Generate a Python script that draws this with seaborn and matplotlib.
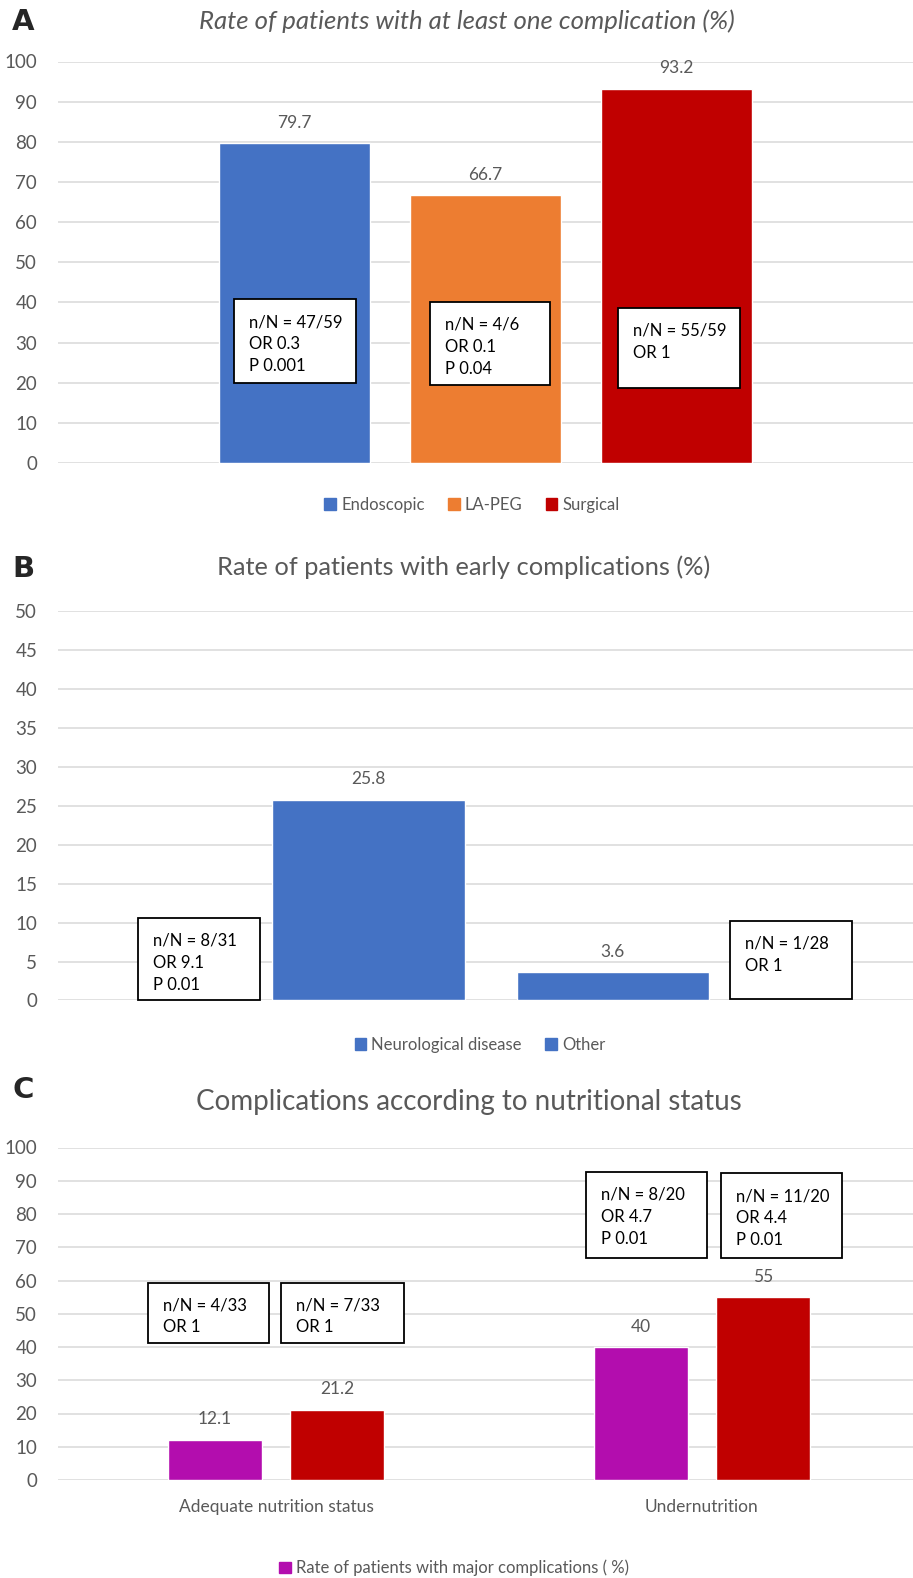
import pandas as pd
import matplotlib.pyplot as plt
from matplotlib.patches import Patch, Rectangle
import seaborn as sns

# ── Data ──────────────────────────────────────────────────────────────────────
A_METHODS = ["Endoscopic", "LA-PEG", "Surgical"]
A_RATES = [79.7, 66.7, 93.2]
A_COLORS = ["#4472C4", "#ED7D31", "#C00000"]
A_N = ["47/59", "4/6", "55/59"]
A_OR = ["0.3", "0.1", "1"]
A_P = ["0.001", "0.04", None]

B_GROUPS = ["Neurological disease", "Other"]
B_RATES = [25.8, 3.6]
B_COLORS = ["#4472C4", "#4472C4"]
B_N = ["8/31", "1/28"]
B_OR = ["9.1", "1"]
B_P = ["0.01", None]

C_STATUS = ["Adequate nutrition status", "Undernutrition"]
C_SERIES = ["Rate of patients with major complications ( %)",
            "Rate of patients with at least one complication (%)"]
C_MAJOR = [12.1, 40]
C_ANY = [21.2, 55]
C_COLORS = ["#B30DAE", "#C00000"]
C_N = ["4/33", "7/33", "8/20", "11/20"]
C_OR = ["1", "1", "4.7", "4.4"]
C_P = [None, None, "0.01", "0.01"]

# ── Style ─────────────────────────────────────────────────────────────────────
sns.set_style("white")
plt.rcParams["font.family"] = ["Lato", "DejaVu Sans"]
GREY = "#595959"
GRID = "#d9d9d9"
LETTER_FONT = ["Liberation Sans Narrow", "DejaVu Sans Condensed", "DejaVu Sans"]
W, H = 913, 1578

fig = plt.figure(figsize=(W / 100, H / 100), dpi=100)


def axes_px(x0, x1, ytop, ybot):
    return fig.add_axes([x0 / W, 1 - ybot / H, (x1 - x0) / W, (ybot - ytop) / H])


def fx(x):
    return x / W


def fy(y):
    return 1 - y / H


def style_axes(ax, ymax, step):
    ax.set_ylim(0, ymax)
    ax.set_yticks(range(0, ymax + 1, step))
    ax.yaxis.grid(True, color=GRID, lw=1.1)
    ax.xaxis.grid(False)
    ax.set_axisbelow(True)
    sns.despine(ax=ax, left=True, bottom=True)
    ax.tick_params(axis="y", length=0, pad=15, labelsize=13.5, labelcolor=GREY)
    ax.tick_params(axis="x", length=0, pad=14, labelsize=12.5, labelcolor=GREY)
    ax.set_xlabel("")
    ax.set_ylabel("")
    for c in ax.containers:
        ax.bar_label(c, fmt="%g", padding=9, fontsize=12.5, color=GREY)


def note_box(x0, y0, x1, y1, n, orv, p):
    fig.add_artist(Rectangle((fx(x0), fy(y1)), fx(x1 - x0), (y1 - y0) / H,
                             transform=fig.transFigure, facecolor="white",
                             edgecolor="black", lw=1.3, zorder=5))
    lines = [f"n/N = {n}", f"OR {orv}"] + ([f"P {p}"] if p else [])
    fig.text(fx(x0 + 15), fy(y0 + 15), "\n".join(lines), ha="left", va="top",
             fontsize=12, linespacing=1.45, color="black", zorder=6)


def legend_px(handles, labels, xc, yc, ncol):
    fig.legend(handles, labels, loc="center", bbox_to_anchor=(fx(xc), fy(yc)),
               ncol=ncol, frameon=False, fontsize=12, labelcolor=GREY,
               handlelength=0.7, handleheight=0.7, handletextpad=0.3,
               columnspacing=1.4)


# ── Panel A ───────────────────────────────────────────────────────────────────
dfa = pd.DataFrame({"g": [""] * 3, "method": A_METHODS, "rate": A_RATES})
axa = axes_px(58, 913, 61.5, 463)
sns.barplot(data=dfa, x="g", y="rate", hue="method", palette=A_COLORS,
            width=0.67, gap=0.21, saturation=1, legend=False, ax=axa)
axa.set_xlim(-0.5, 0.5)
axa.set_xticks([])
style_axes(axa, 100, 10)
fig.text(fx(467), fy(21), "Rate of patients with at least one complication (%)",
         ha="center", va="center", fontsize=18.5, style="italic", color=GREY)
fig.text(fx(23), fy(22), "A", ha="center", va="center", fontsize=21,
         weight="bold", family=LETTER_FONT)
legend_px([Patch(color=c) for c in A_COLORS], A_METHODS, 472, 505, 3)

a_boxes = [(233.5, 299, 356, 382.5), (430, 302, 549.5, 384.5), (618, 308, 740, 387.5)]
for (x0, y0, x1, y1), n, o, p in zip(a_boxes, A_N, A_OR, A_P):
    note_box(x0, y0, x1, y1, n, o, p)

# ── Panel B ───────────────────────────────────────────────────────────────────
dfb = pd.DataFrame({"g": [""] * 2, "group": B_GROUPS, "rate": B_RATES})
axb = axes_px(58, 913, 611, 1000.5)
sns.barplot(data=dfb, x="g", y="rate", hue="group", palette=B_COLORS,
            width=0.572, gap=0.213, saturation=1, legend=False, ax=axb)
axb.set_xlim(-0.506, 0.494)
axb.set_xticks([])
style_axes(axb, 50, 5)
fig.text(fx(464), fy(567), "Rate of patients with early complications (%)",
         ha="center", va="center", fontsize=18.3, color=GREY)
fig.text(fx(23), fy(569), "B", ha="center", va="center", fontsize=21,
         weight="bold", family=LETTER_FONT)
legend_px([Patch(color=c) for c in B_COLORS], B_GROUPS, 480, 1045, 2)

b_boxes = [(138, 918, 259.5, 1000.5), (730, 921, 851.5, 998.5)]
for (x0, y0, x1, y1), n, o, p in zip(b_boxes, B_N, B_OR, B_P):
    note_box(x0, y0, x1, y1, n, o, p)

# ── Panel C ───────────────────────────────────────────────────────────────────
dfc = pd.DataFrame({
    "status": C_STATUS * 2,
    "series": [C_SERIES[0]] * 2 + [C_SERIES[1]] * 2,
    "rate": C_MAJOR + C_ANY,
})
axc = axes_px(58, 913, 1147.5, 1480)
sns.barplot(data=dfc, x="status", y="rate", hue="series", palette=C_COLORS,
            width=0.573, gap=0.225, saturation=1, legend=False, ax=axc)
axc.set_xlim(-0.512, 1.496)
style_axes(axc, 100, 10)
fig.text(fx(469), fy(1102), "Complications according to nutritional status",
         ha="center", va="center", fontsize=20, color=GREY)
fig.text(fx(23), fy(1090), "C", ha="center", va="center", fontsize=21,
         weight="bold", family=LETTER_FONT)
legend_px([Patch(color=C_COLORS[0])], C_SERIES[:1], 454, 1568, 1)

c_boxes = [(148, 1282.5, 269, 1343), (281, 1282.5, 403.5, 1343),
           (586, 1172, 706.5, 1258), (721, 1173, 841.5, 1258)]
for (x0, y0, x1, y1), n, o, p in zip(c_boxes, C_N, C_OR, C_P):
    note_box(x0, y0, x1, y1, n, o, p)

fig.savefig("out.png", dpi=100)
